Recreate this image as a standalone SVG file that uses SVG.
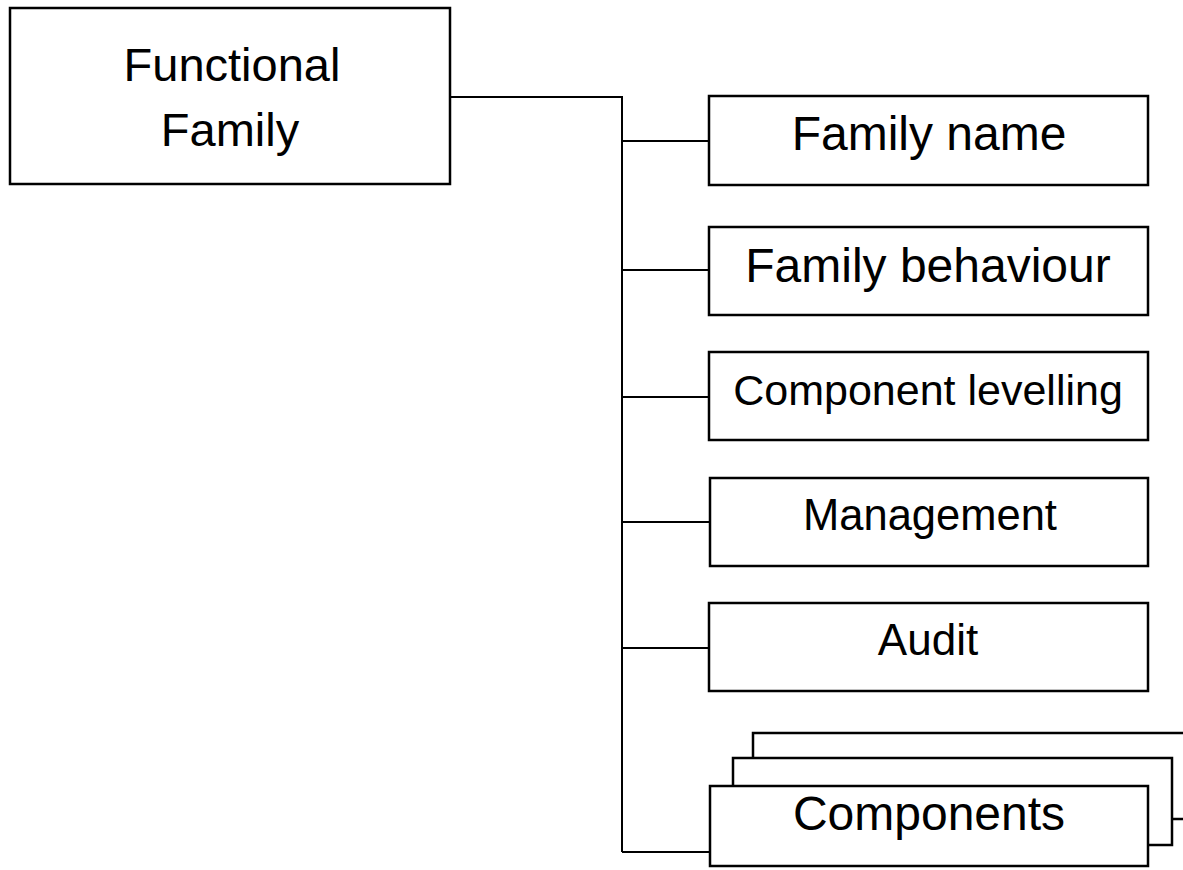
<svg xmlns="http://www.w3.org/2000/svg" width="1183" height="870" viewBox="0 0 1183 870">
<style>
.box{fill:#fff;stroke:#000;stroke-width:2.5}
.t{font-family:"Liberation Sans",Arial,sans-serif;fill:#000;text-anchor:middle}
.c{fill:none;stroke:#000;stroke-width:2}
</style>
<rect width="1183" height="870" fill="#fff"/>
<g id="connectors">
<path class="c" d="M445 97H622V852"/>
<path class="c" d="M622 141H709M622 270H709M622 397H709M622 522H710M622 648H709M622 852H710"/>
</g>
<g id="functional-family">
<rect class="box" x="10" y="8" width="440" height="176"/>
<text class="t" x="232" y="81" font-size="47">Functional</text>
<text class="t" x="230" y="146" font-size="47">Family</text>
</g>
<g id="family-name">
<rect class="box" x="709" y="96" width="439" height="89"/>
<text class="t" x="929" y="150" font-size="48">Family name</text>
</g>
<g id="family-behaviour">
<rect class="box" x="709" y="227" width="439" height="88"/>
<text class="t" x="928" y="282" font-size="48">Family behaviour</text>
</g>
<g id="component-levelling">
<rect class="box" x="709" y="352" width="439" height="88"/>
<text class="t" x="928" y="405" font-size="43">Component levelling</text>
</g>
<g id="management">
<rect class="box" x="710" y="478" width="438" height="88"/>
<text class="t" x="930" y="530" font-size="43.5">Management</text>
</g>
<g id="audit">
<rect class="box" x="709" y="603" width="439" height="88"/>
<text class="t" x="928" y="655" font-size="44">Audit</text>
</g>
<g id="components">
<rect class="box" x="753" y="733" width="450" height="86"/>
<rect class="box" x="733" y="758" width="439" height="87"/>
<rect class="box" x="710" y="786" width="438" height="80"/>
<text class="t" x="929" y="830" font-size="48">Components</text>
</g>
</svg>
